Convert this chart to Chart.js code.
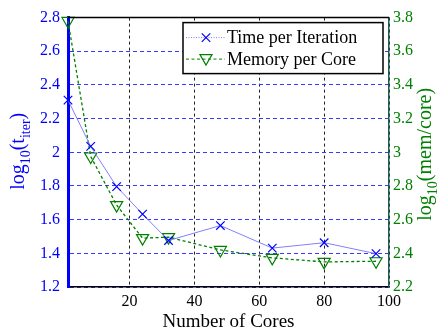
<!DOCTYPE html>
<html>
<head>
<meta charset="utf-8">
<script src="https://cdn.jsdelivr.net/npm/chart.js@4/dist/chart.umd.min.js"></script>
<style>
html, body { margin: 0; padding: 0; background: #fff; }
</style>
</head>
<body>
<canvas id="perfChart" width="443" height="333"></canvas>
<script>
// values
var cores = [1, 8, 16, 24, 32, 48, 64, 80, 96];
var timeLog = [2.31, 2.035, 1.796, 1.633, 1.476, 1.565, 1.431, 1.463, 1.398];
var memLog = [3.78, 2.975, 2.686, 2.49, 2.496, 2.42, 2.373, 2.349, 2.353];
var xTicks = [20, 40, 60, 80, 100];
var leftTicks = [1.2, 1.4, 1.6, 1.8, 2, 2.2, 2.4, 2.6, 2.8];
var rightTicks = [2.2, 2.4, 2.6, 2.8, 3, 3.2, 3.4, 3.6, 3.8];
var seriesNames = ["Time per Iteration", "Memory per Core"];

var serif = "'Liberation Serif', 'Times New Roman', serif";
var blue = "#0000ff";
var green = "#008000";

function toPoints(xs, ys) {
  return xs.map(function (x, i) { return {x: x, y: ys[i]}; });
}

// rotated axis titles with subscripts (log_10 ...)
function drawRich(ctx, parts, bx, cy, size, color) {
  ctx.save();
  ctx.translate(bx, cy);
  ctx.rotate(-Math.PI / 2);
  ctx.fillStyle = color;
  ctx.textBaseline = "alphabetic";
  ctx.textAlign = "left";
  var total = 0;
  parts.forEach(function (p) {
    ctx.font = (p.sub ? size * 0.7 : size) + "px " + serif;
    p.w = ctx.measureText(p.t).width;
    total += p.w;
  });
  var x = -total / 2;
  parts.forEach(function (p) {
    ctx.font = (p.sub ? size * 0.7 : size) + "px " + serif;
    ctx.fillText(p.t, x, p.sub ? 6 : 0);
    x += p.w;
  });
  ctx.restore();
}

var extras = {
  id: "extras",
  afterDraw: function (chart) {
    var ctx = chart.ctx;
    var a = chart.chartArea;
    // top frame line
    ctx.save();
    ctx.strokeStyle = "#000";
    ctx.lineWidth = 1.5;
    ctx.beginPath();
    ctx.moveTo(a.left, a.top);
    ctx.lineTo(a.right, a.top);
    ctx.stroke();
    ctx.restore();

    var midY = (a.top + a.bottom) / 2;
    drawRich(ctx, [{t: "log"}, {t: "10", sub: true}, {t: "(t"}, {t: "iter", sub: true}, {t: ")"}],
      a.left - 44, midY - 1, 20, blue);
    drawRich(ctx, [{t: "log"}, {t: "10", sub: true}, {t: "(mem/core)"}],
      a.right + 42, midY + 2, 20, green);

    // legend box inside the plot
    var bx = a.right - 206, by = a.top + 5, bw = 200, bh = 51;
    ctx.save();
    ctx.fillStyle = "#fff";
    ctx.fillRect(bx, by, bw, bh);
    ctx.strokeStyle = "#000";
    ctx.lineWidth = 1.5;
    ctx.strokeRect(bx, by, bw, bh);
    ctx.font = "18px " + serif;
    ctx.textBaseline = "middle";
    chart.data.datasets.forEach(function (ds, i) {
      var ry = by + 15 + i * 21.5;
      ctx.save();
      ctx.strokeStyle = ds.borderColor;
      ctx.lineWidth = 1;
      ctx.setLineDash(i === 0 ? [1, 1.5] : [3, 2.5]);
      ctx.beginPath();
      ctx.moveTo(bx + 3, ry);
      ctx.lineTo(bx + 42, ry);
      ctx.stroke();
      ctx.restore();
      ctx.save();
      ctx.strokeStyle = ds.pointBorderColor;
      ctx.fillStyle = "rgba(0,0,0,0)";
      ctx.lineWidth = ds.pointBorderWidth;
      ctx.setLineDash([]);
      Chart.helpers.drawPoint(ctx, {
        pointStyle: ds.pointStyle,
        radius: ds.pointRadius,
        rotation: ds.pointRotation || 0,
        borderWidth: ds.pointBorderWidth
      }, bx + 23, ry + (i === 1 ? -1 : 0));
      ctx.restore();
      ctx.fillStyle = "#000";
      ctx.fillText(ds.label, bx + 44, ry + 1);
    });
    ctx.restore();
  }
};

new Chart(document.getElementById("perfChart"), {
  type: "line",
  data: {
    datasets: [
      {
        label: seriesNames[0],
        data: toPoints(cores, timeLog),
        yAxisID: "y",
        borderColor: "#8080ff",
        borderWidth: 1,
        pointStyle: "crossRot",
        pointRadius: 6,
        pointBorderColor: blue,
        pointBorderWidth: 1.2,
        pointBackgroundColor: "rgba(0,0,0,0)",
        tension: 0,
        clip: false
      },
      {
        label: seriesNames[1],
        data: toPoints(cores, memLog),
        yAxisID: "y2",
        borderColor: green,
        borderWidth: 1.3,
        borderDash: [3, 2.5],
        pointStyle: "triangle",
        pointRotation: 180,
        pointRadius: 7,
        pointBorderColor: green,
        pointBorderWidth: 1.2,
        pointBackgroundColor: "rgba(0,0,0,0)",
        tension: 0,
        clip: false
      }
    ]
  },
  options: {
    responsive: false,
    animation: false,
    events: [],
    devicePixelRatio: 1,
    layout: {padding: {top: 15, left: 0, right: 0, bottom: 0}},
    plugins: {legend: {display: false}, tooltip: {enabled: false}},
    scales: {
      x: {
        type: "linear",
        min: 1,
        max: 100,
        afterBuildTicks: function (s) { s.ticks = xTicks.map(function (v) { return {value: v}; }); },
        afterFit: function (s) { s.height = 46; },
        ticks: {
          color: "#000",
          font: {family: serif, size: 16},
          padding: 5,
          maxRotation: 0,
          autoSkip: false,
          callback: function (v) { return String(v); }
        },
        grid: {color: "#222", lineWidth: 1, drawTicks: false},
        border: {color: "#000", width: 1.5, dash: [3, 3]},
        title: {
          display: true,
          text: "Number of Cores",
          color: "#000",
          font: {family: serif, size: 19},
          padding: {top: 0, bottom: 0}
        }
      },
      y: {
        position: "left",
        min: 1.2,
        max: 2.8,
        afterBuildTicks: function (s) { s.ticks = leftTicks.map(function (v) { return {value: v}; }); },
        afterFit: function (s) { s.width = 68; },
        ticks: {
          color: blue,
          font: {family: serif, size: 16},
          padding: 8,
          autoSkip: false,
          callback: function (v) { return String(v); }
        },
        grid: {color: "#3838ff", lineWidth: 1, drawTicks: false},
        border: {color: blue, width: 3, dash: [4, 3]}
      },
      y2: {
        position: "right",
        min: 2.2,
        max: 3.8,
        afterBuildTicks: function (s) { s.ticks = rightTicks.map(function (v) { return {value: v}; }); },
        afterFit: function (s) { s.width = 54; },
        ticks: {
          color: green,
          font: {family: serif, size: 16},
          padding: 4,
          autoSkip: false,
          callback: function (v) { return String(v); }
        },
        grid: {drawOnChartArea: false, drawTicks: false},
        border: {color: "#1f5c55", width: 1.5}
      }
    }
  },
  plugins: [extras]
});
</script>
</body>
</html>
